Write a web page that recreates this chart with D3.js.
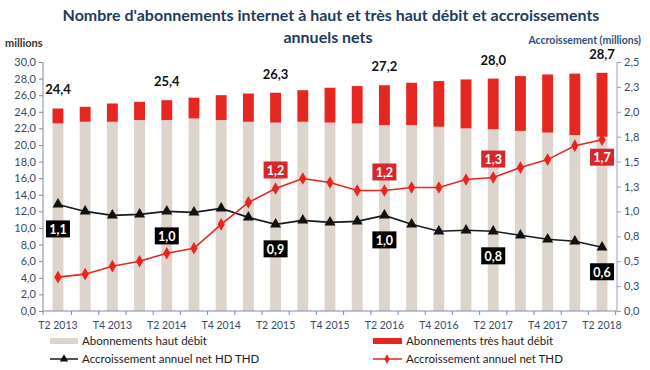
<!DOCTYPE html>
<html>
<head>
<meta charset="utf-8">
<script src="https://cdn.jsdelivr.net/npm/d3@7"></script>
<style>
  body { margin: 0; background: #fff; }
  svg { font-family: Lato, "Open Sans", sans-serif; }
</style>
</head>
<body>
<svg width="650" height="370"></svg>
<script>
// Trimestres
var quarters = ["T2 2013", "T3 2013", "T4 2013", "T1 2014", "T2 2014", "T3 2014", "T4 2014",
    "T1 2015", "T2 2015", "T3 2015", "T4 2015", "T1 2016", "T2 2016", "T3 2016", "T4 2016",
    "T1 2017", "T2 2017", "T3 2017", "T4 2017", "T1 2018", "T2 2018"];
var quarterLabels = ["T2 2013", "T4 2013", "T2 2014", "T4 2014", "T2 2015", "T4 2015",
    "T2 2016", "T4 2016", "T2 2017", "T4 2017", "T2 2018"];

// Abonnements (millions)
var hautDebit = [22.6, 22.8, 22.8, 23.0, 23.0, 23.2, 23.0, 22.8, 22.7, 22.8, 22.7,
    22.6, 22.4, 22.4, 22.2, 22.0, 21.9, 21.7, 21.5, 21.2, 21.0];
var tresHautDebit = [1.8, 1.8, 2.2, 2.2, 2.4, 2.5, 3.0, 3.4, 3.6, 3.8, 4.2,
    4.5, 4.8, 5.1, 5.5, 5.9, 6.1, 6.6, 7.0, 7.4, 7.7];

// Accroissements annuels nets (millions)
var accrHdThd = [1.07, 1.00, 0.96, 0.97, 1.00, 0.99, 1.03, 0.94, 0.87, 0.91, 0.89,
    0.90, 0.96, 0.87, 0.80, 0.81, 0.80, 0.76, 0.72, 0.70, 0.64];
var accrThd = [0.34, 0.37, 0.45, 0.50, 0.58, 0.63, 0.87, 1.09, 1.23, 1.33, 1.29,
    1.21, 1.21, 1.24, 1.24, 1.32, 1.34, 1.44, 1.52, 1.66, 1.72];

// Quelles valeurs portent une étiquette
var totalLabelIdx = [0, 4, 8, 12, 16, 20];
var hdThdLabelIdx = [0, 4, 8, 12, 16, 20];
var thdLabelIdx = [8, 12, 16, 20];

var leftTicks = [0, 2, 4, 6, 8, 10, 12, 14, 16, 18, 20, 22, 24, 26, 28, 30];
var rightTicks = [0, 0.25, 0.5, 0.75, 1, 1.25, 1.5, 1.75, 2, 2.25, 2.5];

var svg = d3.select("svg");
// attention: "top" est déjà pris par window.top
var plotL = 43, plotR = 617, plotT = 62, plotB = 311;

var fr = function (v) { return d3.format(".1f")(v).replace(".", ","); };

var x = d3.scaleBand().domain(quarters).range([plotL, plotR])
    .paddingInner(0.6).paddingOuter(0.35);
var y = d3.scaleLinear().domain([0, 30]).range([plotB, plotT]);
var y2 = d3.scaleLinear().domain([0, 2.5]).range([plotB, plotT]);
var cx = function (i) { return x(quarters[i]) + x.bandwidth() / 2; };

var navy = "#1f3b5c";
var tickCol = "#3a4a66";
var beige = "#ddd5cb";
var red = "#e52621";

// Titre
svg.append("text").attr("x", 331).attr("y", 21).attr("text-anchor", "middle")
    .style("font-size", "16px").style("font-weight", "bold").style("fill", navy)
    .text("Nombre d'abonnements internet à haut et très haut débit et accroissements");
svg.append("text").attr("x", 328).attr("y", 43).attr("text-anchor", "middle")
    .style("font-size", "16px").style("font-weight", "bold").style("fill", navy)
    .text("annuels nets");

svg.append("text").attr("x", 5).attr("y", 47)
    .style("font-size", "11px").style("font-weight", "bold").style("fill", "#333")
    .text("millions");
svg.append("text").attr("x", 641).attr("y", 44).attr("text-anchor", "end")
    .style("font-size", "10.5px").style("font-weight", "bold").style("fill", "#2f4f7f")
    .text("Accroissement (millions)");

// Barres empilées
var stack = quarters.map(function (q, i) {
    return { q: q, hd: hautDebit[i], thd: tresHautDebit[i] };
});
var bars = svg.append("g");
bars.selectAll("rect.hd").data(stack).enter().append("rect")
    .attr("x", function (d) { return x(d.q); })
    .attr("width", x.bandwidth())
    .attr("y", function (d) { return y(d.hd); })
    .attr("height", function (d) { return y(0) - y(d.hd); })
    .style("fill", beige);
bars.selectAll("rect.thd").data(stack).enter().append("rect")
    .attr("x", function (d) { return x(d.q); })
    .attr("width", x.bandwidth())
    .attr("y", function (d) { return y(d.hd + d.thd); })
    .attr("height", function (d) { return y(d.hd) - y(d.hd + d.thd); })
    .style("fill", red);

// Totaux
svg.selectAll("text.total").data(totalLabelIdx).enter().append("text")
    .attr("x", function (i) { return cx(i); })
    .attr("y", function (i) { return y(hautDebit[i] + tresHautDebit[i]) - 14; })
    .attr("text-anchor", "middle")
    .style("font-size", "13px").style("font-weight", "bold").style("fill", "#111")
    .text(function (i) { return fr(hautDebit[i] + tresHautDebit[i]); });

// Axes
var axL = svg.append("g").attr("transform", "translate(" + plotL + ",0)")
    .call(d3.axisLeft(y).tickValues(leftTicks).tickSize(4).tickPadding(3).tickFormat(fr));
var axR = svg.append("g").attr("transform", "translate(" + plotR + ",0)")
    .call(d3.axisRight(y2).tickValues(rightTicks).tickSize(4).tickPadding(3).tickFormat(fr));
[axL, axR].forEach(function (a) {
    a.selectAll("text").style("font-size", "11px").style("fill", tickCol)
        .style("font-family", "Lato, sans-serif");
    a.select(".domain").attr("d", "M0," + plotT + "V" + plotB);
});
axL.selectAll("line").style("stroke", "#7f8aa8");
axL.select(".domain").style("stroke", "#7f8aa8");
axR.selectAll("line").style("stroke", "#9a9ac8");
axR.select(".domain").style("stroke", "#9a9ac8");

// Axe des catégories
var axB = svg.append("g");
axB.append("line").attr("x1", plotL).attr("x2", plotR).attr("y1", plotB).attr("y2", plotB)
    .style("stroke", "#7f8aa8");
var bounds = [plotL].concat(quarters.map(function (q) {
    return x(q) + x.bandwidth() + (x.step() - x.bandwidth()) / 2;
}));
axB.selectAll("line.t").data(bounds).enter().append("line")
    .attr("x1", function (d) { return d; }).attr("x2", function (d) { return d; })
    .attr("y1", plotB).attr("y2", plotB + 4)
    .style("stroke", "#7f8aa8");
axB.selectAll("text").data(quarterLabels).enter().append("text")
    .attr("x", function (q) { return x(q) + x.bandwidth() / 2; })
    .attr("y", plotB + 18)
    .attr("text-anchor", "middle")
    .style("font-size", "10.5px").style("fill", tickCol)
    .text(function (q) { return q; });

// Courbes
var line = d3.line()
    .x(function (d, i) { return cx(i); })
    .y(function (d) { return y2(d); });

svg.append("path").datum(accrHdThd).attr("d", line)
    .style("fill", "none").style("stroke", "#1a1a1a").style("stroke-width", 1.6);
svg.append("path").datum(accrThd).attr("d", line)
    .style("fill", "none").style("stroke", red).style("stroke-width", 1.6);

svg.selectAll("path.tri").data(accrHdThd).enter().append("path")
    .attr("d", d3.symbol().type(d3.symbolTriangle).size(52))
    .attr("transform", function (d, i) { return "translate(" + cx(i) + "," + y2(d) + ")"; })
    .style("fill", "#111");
svg.selectAll("path.dia").data(accrThd).enter().append("path")
    .attr("d", d3.symbol().type(d3.symbolDiamond).size(46))
    .attr("transform", function (d, i) { return "translate(" + cx(i) + "," + y2(d) + ")"; })
    .style("fill", red);

// Étiquettes des accroissements
function boxLabel(idx, values, fill, offset) {
    var g = svg.selectAll(null).data(idx).enter().append("g")
        .attr("transform", function (i) {
            var dy = typeof offset === "function" ? offset(i) : offset;
            return "translate(" + cx(i) + "," + (y2(values[i]) + dy) + ")";
        });
    g.append("rect").attr("x", -12).attr("y", -9).attr("width", 24).attr("height", 17)
        .style("fill", fill);
    g.append("text").attr("y", 4.5).attr("text-anchor", "middle")
        .style("font-size", "12.5px").style("font-weight", "bold").style("fill", "#fff")
        .text(function (i) { return fr(values[i]); });
}
boxLabel(hdThdLabelIdx, accrHdThd, "#000", 25);
boxLabel(thdLabelIdx, accrThd, "#d9262a", function (i) { return i === 20 ? 18 : -18; });

// Légende
var leg = svg.append("g").style("font-size", "11.5px").style("fill", "#222");
leg.append("rect").attr("x", 50).attr("y", 338).attr("width", 28).attr("height", 6).style("fill", beige);
leg.append("text").attr("x", 82).attr("y", 345).text("Abonnements haut débit");
leg.append("rect").attr("x", 373).attr("y", 338).attr("width", 29).attr("height", 6).style("fill", red);
leg.append("text").attr("x", 406).attr("y", 345).text("Abonnements très haut débit");

leg.append("line").attr("x1", 50).attr("x2", 78).attr("y1", 359).attr("y2", 359)
    .style("stroke", "#1a1a1a").style("stroke-width", 1.5);
leg.append("path").attr("d", d3.symbol().type(d3.symbolTriangle).size(30))
    .attr("transform", "translate(64,359)").style("fill", "#111");
leg.append("text").attr("x", 82).attr("y", 363).text("Accroissement annuel net HD THD");
leg.append("line").attr("x1", 373).attr("x2", 402).attr("y1", 359).attr("y2", 359)
    .style("stroke", red).style("stroke-width", 1.5);
leg.append("path").attr("d", d3.symbol().type(d3.symbolDiamond).size(26))
    .attr("transform", "translate(387,359)").style("fill", red);
leg.append("text").attr("x", 406).attr("y", 363).text("Accroissement annuel net THD");
</script>
</body>
</html>
